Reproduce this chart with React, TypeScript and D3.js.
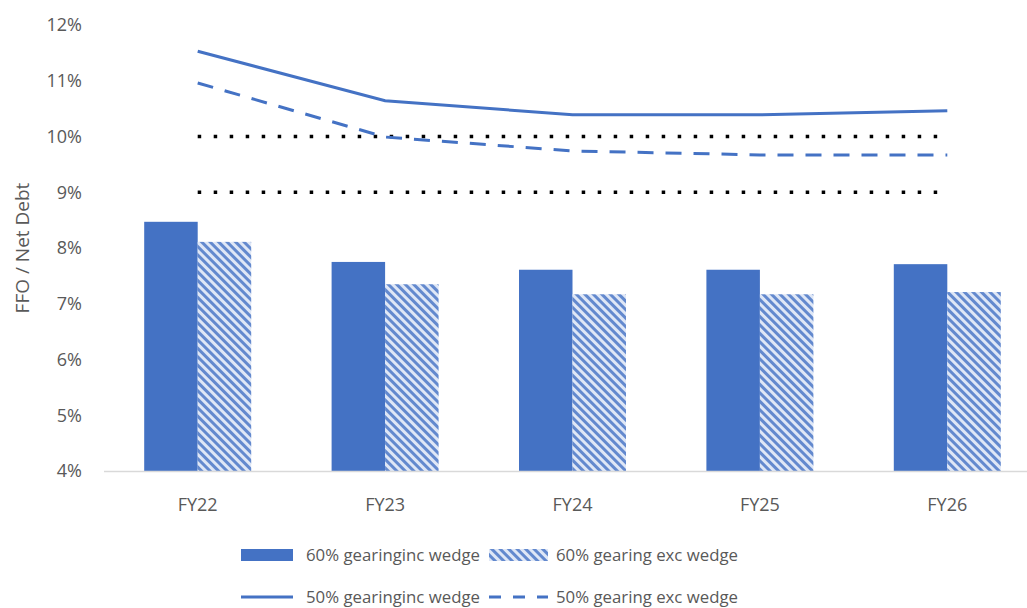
import React from 'react'
import * as d3 from 'd3'

const categories = ['FY22', 'FY23', 'FY24', 'FY25', 'FY26']
const barInc = [8.47, 7.75, 7.61, 7.61, 7.71]
const barExc = [8.11, 7.35, 7.17, 7.17, 7.21]
const lineInc = [11.53, 10.64, 10.39, 10.39, 10.46]
const lineExc = [10.96, 9.99, 9.74, 9.67, 9.67]
const thresholds = [10, 9]
const yTicks = [4, 5, 6, 7, 8, 9, 10, 11, 12]

const BLUE = '#4472c4'
const TEXT = '#595959'
const FONT = 'Open Sans, Lato, sans-serif'

const App = () => {
  const width = 1027
  const height = 608
  const x = d3.scaleBand().domain(categories).range([104, 1041])
  const y = d3.scaleLinear().domain([4, 12]).range([471, 25])
  const barW = 53.5
  const cx = (c) => x(c) + x.bandwidth() / 2

  const line = d3
    .line<number>()
    .x((_, i) => cx(categories[i]))
    .y((d) => y(d))

  return (
    <svg width={width} height={height} style={{ position: 'absolute', left: 0, top: 0 }}>
      <defs>
        <pattern id="stripes" width="6" height="6" patternUnits="userSpaceOnUse" patternTransform="rotate(-45)">
          <rect width="6" height="6" fill="#dfe7f6" />
          <rect width="3" height="6" fill={BLUE} opacity="0.8" />
        </pattern>
      </defs>
      <rect width={width} height={height} fill="#fff" />

      {/* bars */}
      {categories.map((c, i) => (
        <g key={c}>
          <rect x={cx(c) - barW} y={y(barInc[i])} width={barW} height={y(4) - y(barInc[i])} fill={BLUE} />
          <rect x={cx(c)} y={y(barExc[i])} width={barW} height={y(4) - y(barExc[i])} fill="url(#stripes)" />
        </g>
      ))}

      {/* axis */}
      <line x1={104} x2={1041} y1={y(4) + 0.5} y2={y(4) + 0.5} stroke="#d9d9d9" strokeWidth={1.5} />
      {yTicks.map((t) => (
        <text key={t} x={82} y={y(t)} dy="0.35em" textAnchor="end" fontFamily={FONT} fontSize={18} fill={TEXT}>
          {t}%
        </text>
      ))}
      {categories.map((c) => (
        <text key={c} x={cx(c)} y={505} dy="0.35em" textAnchor="middle" fontFamily={FONT} fontSize={18} fill={TEXT}>
          {c}
        </text>
      ))}
      <text
        transform={`translate(22,${248}) rotate(-90)`}
        textAnchor="middle"
        dy="0.35em"
        fontFamily={FONT}
        fontSize={19}
        fill={TEXT}
      >
        FFO / Net Debt
      </text>

      {/* threshold dotted lines */}
      {thresholds.map((t) => (
        <line
          key={t}
          x1={cx(categories[0])}
          x2={cx(categories[categories.length - 1])}
          y1={y(t)}
          y2={y(t)}
          stroke="#000"
          strokeWidth={3.5}
          strokeDasharray="3.5 12.5"
        />
      ))}

      {/* lines */}
      <path d={line(lineInc)} fill="none" stroke={BLUE} strokeWidth={3} />
      <path d={line(lineExc)} fill="none" stroke={BLUE} strokeWidth={3} strokeDasharray="16 12" />

      {/* legend */}
      <g fontFamily={FONT} fontSize={16.8} fill={TEXT}>
        <rect x={241} y={549} width={52} height={12} fill={BLUE} />
        <text x={306} y={555} dy="0.35em">60% gearinginc wedge</text>
        <rect x={489} y={549} width={59} height={12} fill="url(#stripes)" />
        <text x={556} y={555} dy="0.35em">60% gearing exc wedge</text>
        <line x1={241} x2={293} y1={597} y2={597} stroke={BLUE} strokeWidth={3} />
        <text x={306} y={597} dy="0.35em">50% gearinginc wedge</text>
        <line x1={489} x2={548} y1={597} y2={597} stroke={BLUE} strokeWidth={3} strokeDasharray="12 12" />
        <text x={556} y={597} dy="0.35em">50% gearing exc wedge</text>
      </g>
    </svg>
  )
}

export default App
